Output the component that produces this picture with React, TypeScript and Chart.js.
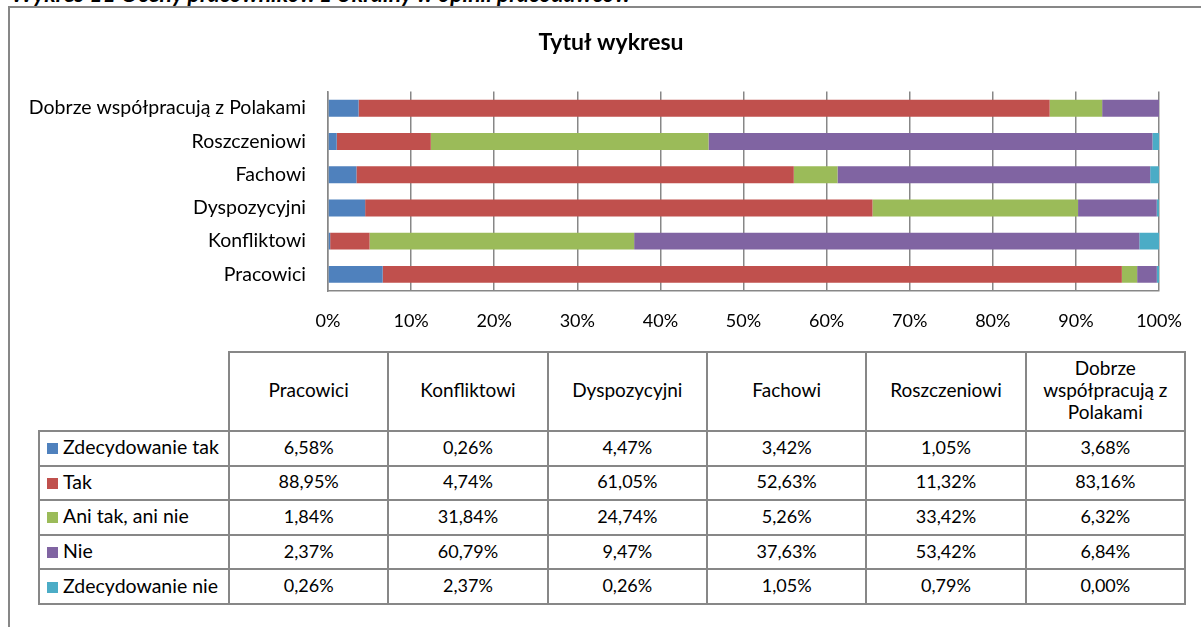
import React, { useEffect, useRef } from "react";
import { Chart, registerables } from "chart.js";

Chart.register(...registerables);

// ---- data ----
const categories = [
  "Pracowici",
  "Konfliktowi",
  "Dyspozycyjni",
  "Fachowi",
  "Roszczeniowi",
  "Dobrze współpracują z Polakami",
];
const seriesNames = ["Zdecydowanie tak", "Tak", "Ani tak, ani nie", "Nie", "Zdecydowanie nie"];
const zdecydowanieTak = [6.58, 0.26, 4.47, 3.42, 1.05, 3.68];
const tak = [88.95, 4.74, 61.05, 52.63, 11.32, 83.16];
const aniTakAniNie = [1.84, 31.84, 24.74, 5.26, 33.42, 6.32];
const nie = [2.37, 60.79, 9.47, 37.63, 53.42, 6.84];
const zdecydowanieNie = [0.26, 2.37, 0.26, 1.05, 0.79, 0.0];
const seriesValues = [zdecydowanieTak, tak, aniTakAniNie, nie, zdecydowanieNie];
const seriesColors = ["#4F81BD", "#C0504D", "#9BBB59", "#8064A2", "#4BACC6"];
const xTickStep = 10;
const xMax = 100;
const chartTitle = "Tytuł wykresu";
const caption = "Wykres 11 Oceny pracowników z Ukrainy w opinii pracodawców";

const FONT = "Lato, 'Open Sans', sans-serif";
const GRID = "#878787";

const fmt = (v: number) => v.toFixed(2).replace(".", ",") + "%";

const pageCss =
  "html,body{overflow:hidden !important;margin:0 !important;}" +
  "::-webkit-scrollbar{width:0 !important;height:0 !important;display:none !important;}";

export default function App() {
  const canvasRef = useRef<HTMLCanvasElement | null>(null);

  useEffect(() => {
    document.documentElement.style.overflow = "hidden";
    document.body.style.overflow = "hidden";
    if (!canvasRef.current) return;
    const chart = new Chart(canvasRef.current, {
      type: "bar",
      data: {
        labels: categories,
        datasets: seriesNames.map((name, i) => ({
          label: name,
          data: seriesValues[i],
          backgroundColor: seriesColors[i],
          borderWidth: 0,
          barPercentage: 0.51,
          categoryPercentage: 1,
        })),
      },
      options: {
        indexAxis: "y",
        animation: false,
        responsive: false,
        devicePixelRatio: 1,
        layout: { padding: 0 },
        plugins: {
          legend: { display: false },
          tooltip: { enabled: false },
          title: {
            display: true,
            text: chartTitle,
            color: "#000",
            font: { family: FONT, size: 23, weight: "bold" },
            padding: { top: 29, bottom: 35 },
          },
        },
        scales: {
          x: {
            stacked: true,
            min: 0,
            max: xMax,
            ticks: {
              stepSize: xTickStep,
              callback: (v: any) => v + "%",
              padding: 19,
              color: "#000",
              font: { family: FONT, size: 18 },
              maxRotation: 0,
            },
            grid: { color: GRID, lineWidth: 1.5, drawTicks: false },
            border: { color: GRID, width: 1.5 },
            afterFit: (s: any) => {
              s.height = 49;
              s.paddingLeft = 0;
              s.paddingRight = 54;
            },
          },
          y: {
            stacked: true,
            reverse: true,
            ticks: {
              padding: 22,
              color: "#000",
              font: { family: FONT, size: 19.5 },
            },
            grid: { color: "rgba(0,0,0,0)", drawTicks: false },
            border: { color: GRID, width: 1.5 },
            afterFit: (s: any) => {
              s.width = 319;
              s.paddingTop = 0;
              s.paddingBottom = 0;
            },
          },
        },
      } as any,
    });
    return () => chart.destroy();
  }, []);

  const border = `2px solid ${GRID}`;

  return (
    <div
      style={{
        position: "fixed",
        left: 0,
        top: 0,
        width: 1201,
        height: 627,
        overflow: "hidden",
        background: "#fff",
        fontFamily: FONT,
      }}
    >
      <style>{pageCss}</style>
      <div
        style={{
          position: "absolute",
          left: 11,
          top: -20,
          fontWeight: "bold",
          fontStyle: "italic",
          fontSize: 23,
          lineHeight: "27px",
          whiteSpace: "nowrap",
          color: "#000",
        }}
      >
        {caption}
      </div>
      <div
        style={{
          position: "absolute",
          left: 8,
          top: 6,
          width: 1193,
          height: 621,
          borderTop: border,
          borderLeft: border,
          boxSizing: "border-box",
        }}
      />
      <canvas
        ref={canvasRef}
        width={1204}
        height={340}
        style={{ position: "absolute", left: 9, top: 0, width: 1204, height: 340 }}
      />
      <table
        style={{
          position: "absolute",
          left: 38,
          top: 351,
          borderCollapse: "collapse",
          tableLayout: "fixed",
          width: 1146,
          fontFamily: FONT,
          fontSize: 18,
          color: "#000",
        }}
      >
        <colgroup>
          <col style={{ width: 190 }} />
          {categories.map((c) => (
            <col key={c} style={{ width: 159.33 }} />
          ))}
        </colgroup>
        <thead>
          <tr style={{ height: 79 }}>
            <th style={{ border: "none", padding: 0 }} />
            {categories.map((c) => (
              <th
                key={c}
                style={{
                  border,
                  fontWeight: "normal",
                  fontSize: 19,
                  padding: "0 9px 3px 9px",
                  lineHeight: "22px",
                  textAlign: "center",
                  verticalAlign: "middle",
                }}
              >
                {c}
              </th>
            ))}
          </tr>
        </thead>
        <tbody>
          {seriesNames.map((name, si) => (
            <tr key={name} style={{ height: 34.6 }}>
              <td
                style={{
                  border,
                  padding: "0 0 3px 7px",
                  whiteSpace: "nowrap",
                  textAlign: "left",
                  fontSize: 19.5,
                }}
              >
                <span
                  style={{
                    display: "inline-block",
                    width: 11,
                    height: 11,
                    background: seriesColors[si],
                    marginRight: 5,
                  }}
                />
                {name}
              </td>
              {seriesValues[si].map((v, ci) => (
                <td key={ci} style={{ border, textAlign: "center", padding: "0 0 3px 0" }}>
                  {fmt(v)}
                </td>
              ))}
            </tr>
          ))}
        </tbody>
      </table>
    </div>
  );
}
